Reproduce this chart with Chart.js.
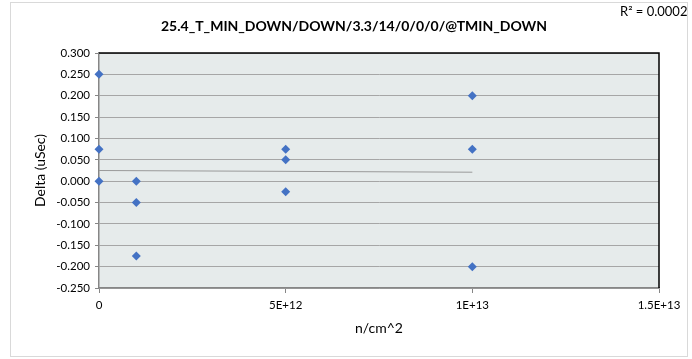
<!DOCTYPE html>
<html>
<head>
<meta charset="utf-8">
<script src="https://cdn.jsdelivr.net/npm/chart.js@4/dist/chart.umd.min.js"></script>
<style>
  html, body { margin: 0; padding: 0; background: #fff; }
  #wrap { width: 692px; height: 359px; position: relative; }
</style>
</head>
<body>
<div id="wrap"><canvas id="chart1" width="692" height="359"></canvas></div>
<script>
// values
var fluence = [0, 0, 0, 1e12, 1e12, 1e12, 5e12, 5e12, 5e12, 1e13, 1e13, 1e13];
var delta   = [0.250, 0.075, 0.000, 0.000, -0.050, -0.175, 0.075, 0.050, -0.025, 0.200, 0.075, -0.200];
var trendX  = [0, 1e13];
var trendY  = [0.025, 0.021];
var xTickLabels = ['0', '5E+12', '1E+13', '1.5E+13'];
var chartTitle = '25.4_T_MIN_DOWN/DOWN/3.3/14/0/0/0/@TMIN_DOWN';
var rSquared = 'R\u00B2 = 0.0002';

var FONT = 'Lato, "Open Sans", sans-serif';

var pts = fluence.map(function (x, i) { return { x: x, y: delta[i] }; });
var trend = trendX.map(function (x, i) { return { x: x, y: trendY[i] }; });

var decor = {
    id: 'decor',
    beforeDraw: function (chart) {
        var c = chart.ctx, a = chart.chartArea;
        c.save();
        c.fillStyle = '#fff';
        c.fillRect(0, 0, chart.width, chart.height);
        c.strokeStyle = '#D9D9D9';
        c.lineWidth = 1;
        c.strokeRect(10.5, 2.5, 677, 354);
        c.fillStyle = '#E6EBEB';
        c.fillRect(a.left, a.top, a.right - a.left, a.bottom - a.top);
        c.restore();
    },
    afterDatasetsDraw: function (chart) {
        var c = chart.ctx, a = chart.chartArea;
        c.save();
        // top and right edges of the plot area
        c.strokeStyle = '#000';
        c.lineWidth = 1.5;
        c.beginPath();
        c.moveTo(a.left, a.top);
        c.lineTo(a.right, a.top);
        c.lineTo(a.right, a.bottom);
        c.stroke();
        c.restore();
    },
    afterDraw: function (chart) {
        var c = chart.ctx;
        c.save();
        c.fillStyle = '#000';
        c.textAlign = 'center';
        c.textBaseline = 'middle';
        c.font = 'bold 14px ' + FONT;
        c.fillText(chartTitle, 354, 26);
        c.font = '13px ' + FONT;
        c.textAlign = 'left';
        c.fillText(rSquared, 620, 12);
        c.restore();
    }
};

var ctx = document.getElementById('chart1');
var chart1 = new Chart(ctx, {
    type: 'scatter',
    data: {
        datasets: [{
            label: 'trend',
            data: trend,
            showLine: true,
            borderColor: '#9A9A9A',
            borderWidth: 1,
            pointRadius: 0,
            order: 2
        }, {
            label: 'Delta',
            data: pts,
            pointStyle: 'rectRot',
            pointRadius: 4.5,
            backgroundColor: '#4472C4',
            borderColor: '#4472C4',
            borderWidth: 0,
            clip: false,
            order: 1
        }]
    },
    options: {
        responsive: false,
        animation: false,
        devicePixelRatio: 1,
        layout: { padding: { left: 0, right: 33, top: 53, bottom: 0 } },
        plugins: {
            legend: { display: false },
            tooltip: { enabled: false }
        },
        scales: {
            x: {
                type: 'linear',
                min: 0,
                max: 1.5e13,
                afterFit: function (s) { s.height = 71; },
                afterBuildTicks: function (s) {
                    s.ticks = xTickLabels.map(function (t, i) { return { value: i * 5e12 }; });
                },
                ticks: {
                    color: '#000',
                    font: { family: FONT, size: 11.5 },
                    padding: 5,
                    maxRotation: 0,
                    callback: function (v, i) { return xTickLabels[i]; }
                },
                grid: { drawOnChartArea: false, tickLength: 5, color: '#868686' },
                border: { color: '#868686', width: 1.5 },
                title: {
                    display: true,
                    text: 'n/cm^2',
                    color: '#000',
                    font: { family: FONT, size: 14 },
                    padding: { top: 0, bottom: 22 }
                }
            },
            y: {
                min: -0.25,
                max: 0.3,
                afterFit: function (s) { s.width = 99; },
                ticks: {
                    stepSize: 0.05,
                    color: '#000',
                    font: { family: FONT, size: 11.5 },
                    padding: 5,
                    callback: function (v) { return v.toFixed(3); }
                },
                grid: { color: '#A6A6A6', lineWidth: 1, tickLength: 4, tickColor: '#868686' },
                border: { color: '#868686', width: 1.5 },
                title: {
                    display: true,
                    text: 'Delta (uSec)',
                    color: '#000',
                    font: { family: FONT, size: 14 },
                    padding: { top: 32, bottom: 0 }
                }
            }
        }
    },
    plugins: [decor]
});
</script>
</body>
</html>
